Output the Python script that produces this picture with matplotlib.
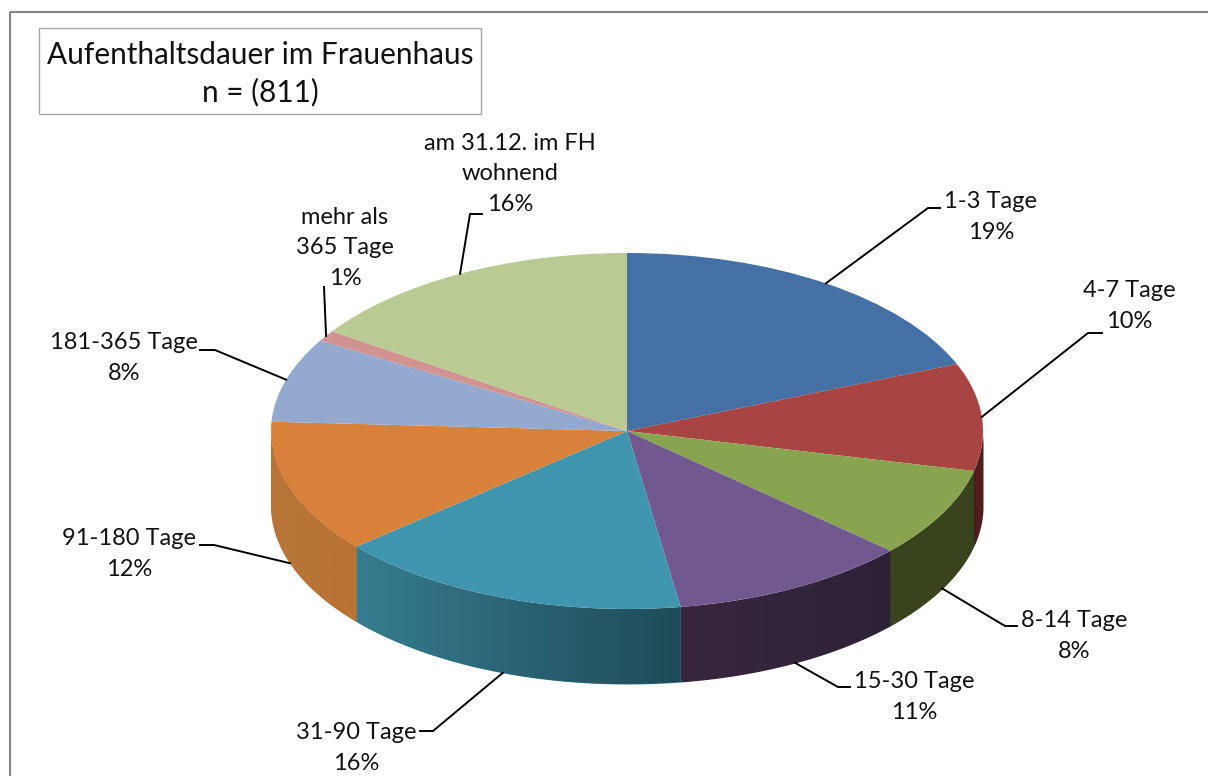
# coding: utf-8
import numpy as np
import matplotlib
matplotlib.use('Agg')
import matplotlib.pyplot as plt
from matplotlib.colors import LinearSegmentedColormap
from matplotlib.patches import Rectangle

plt.rcParams['font.family'] = ['Lato', 'DejaVu Sans']

categories = ['1-3 Tage', '4-7 Tage', '8-14 Tage', '15-30 Tage', '31-90 Tage',
              '91-180 Tage', '181-365 Tage', 'mehr als\n365 Tage', 'am 31.12. im FH\nwohnend']
counts = [153, 79, 66, 88, 131, 98, 62, 8, 126]
title_lines = ['Aufenthaltsdauer im Frauenhaus', 'n = (811)']

colors = ['#4570a6', '#a84442', '#89a44e', '#71588f', '#4095ae', '#d8813b', '#93a9cf', '#d19392', '#b9cb93']
# wall shade at the left and right end of each slice
wall_colors = [('#2a4a70', '#2a4a70'), ('#4a1d1b', '#531f1c'), ('#38441d', '#38441d'),
               ('#38273f', '#2c2238'), ('#367c90', '#1f4b58'), ('#b8763a', '#b87233'),
               ('#5f7090', '#5f7090'), ('#8a5f5e', '#8a5f5e'), ('#7a8a60', '#7a8a60')]

W, H = 1208, 776
CX, CY, RX, RY, DEPTH = 627, 431, 356, 178, 75

# label centre in pixels, then the leader bend and stub end
label_pos = [(991, 217), (1129, 306), (1074, 636), (914, 697), (356, 748),
             (129, 554), (124, 358), (345, 248), (510, 174)]
leaders = [[(928, 208), (940, 208)], [(1088, 333), (1102, 333)], [(1005, 626), (1017, 626)],
           [(838, 687), (850, 687)], [(433, 731), (420, 731)], [(214, 545), (200, 545)],
           [(215, 350), (200, 350)], [(324, 287)], [(470, 214), (482, 214)]]

fig = plt.figure(figsize=(W / 100, H / 100), dpi=100, facecolor='white')

# overlay in image pixels for texts, frame and leaders
ov = fig.add_axes([0, 0, 1, 1], zorder=3)
ov.set_xlim(0, W)
ov.set_ylim(H, 0)
ov.axis('off')
ov.patch.set_alpha(0)

ax = fig.add_axes([(CX - RX) / W, 1 - (CY + RY + DEPTH) / H, 2 * RX / W, (2 * RY + DEPTH) / H], zorder=2)
ax.pie(counts, colors=colors, startangle=90, counterclock=False, radius=1,
       wedgeprops={'linewidth': 0}, center=(0, 0))
d = DEPTH / RY

shares = np.array(counts) / sum(counts)
edges = np.concatenate([[0], np.cumsum(shares)]) * 2 * np.pi  # clockwise from the top

# side walls, only the front half shows
for i in range(len(counts)):
    a0, a1 = max(edges[i], np.pi / 2), min(edges[i + 1], 3 * np.pi / 2)
    if a1 <= a0:
        continue
    t = np.linspace(a0, a1, 80)
    x = np.sin(t)
    y = np.cos(t)
    order = np.argsort(x)
    poly = ax.fill_between(x[order], y[order] - d, y[order], color=wall_colors[i][0], lw=0, zorder=0)
    cmap = LinearSegmentedColormap.from_list('wall', wall_colors[i])
    im = ax.imshow(np.linspace(0, 1, 256).reshape(1, -1), cmap=cmap, aspect='auto', interpolation='bilinear',
                   extent=[x.min(), x.max(), y.min() - d, y.max()], zorder=0.5)
    im.set_clip_path(poly.get_paths()[0], transform=ax.transData)

ax.set_aspect('auto')
ax.set_xlim(-1, 1)
ax.set_ylim(-1 - d, 1)
ax.axis('off')

# frame cut off by the image at right and bottom
ov.add_patch(Rectangle((10, 12), W + 50, H + 50, fill=False, ec='#868686', lw=1.5))

# title box
ov.add_patch(Rectangle((39, 28), 442, 86, fc='white', ec='#a6a6a6', lw=1))
ov.text(260, 55, title_lines[0], ha='center', va='center', fontsize=21.4, color='#111111')
ov.text(260, 92, title_lines[1], ha='center', va='center', fontsize=21.4, color='#111111')

# labels and leader lines, anchored at the middle of each slice rim
for i, name in enumerate(categories):
    pct = round(shares[i] * 100)
    ov.text(label_pos[i][0], label_pos[i][1], f'{name}\n{pct}%', ha='center', va='center',
            fontsize=17, linespacing=1.57, color='#111111')
    mid = 0.5 * (edges[i] + edges[i + 1])
    rim = (np.sin(mid), np.cos(mid) - (d if np.cos(mid) < 0 else 0))
    start = ov.transData.inverted().transform(ax.transData.transform(rim))
    pts = np.array([start] + leaders[i])
    ov.plot(pts[:, 0], pts[:, 1], color='black', lw=1.4, solid_joinstyle='miter')

fig.savefig('out.png', dpi=100)
